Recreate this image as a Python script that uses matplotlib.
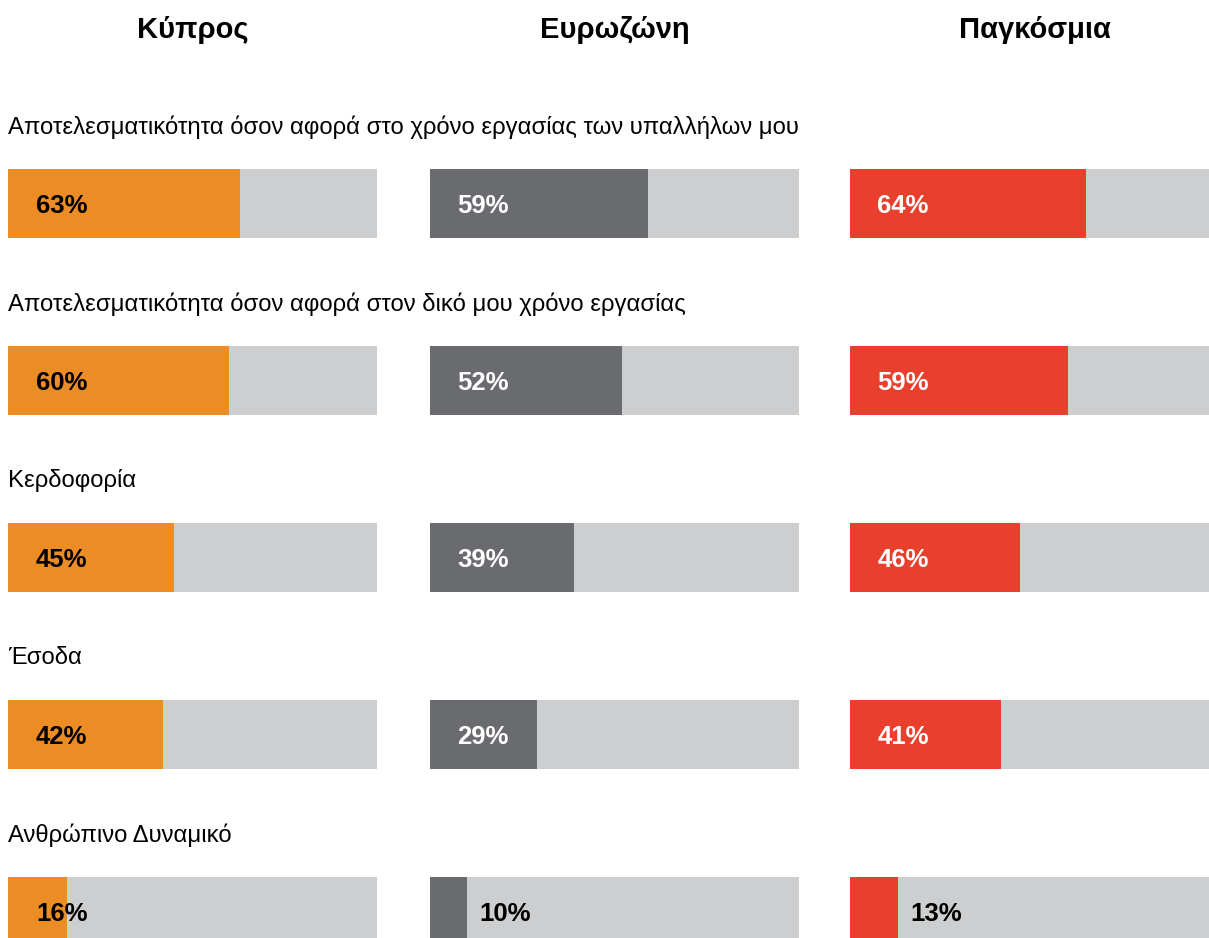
import matplotlib
matplotlib.use("Agg")
from matplotlib import pyplot as plt

plt.rcParams["font.family"] = ["Liberation Sans", "DejaVu Sans"]

regions = ["Κύπρος", "Ευρωζώνη", "Παγκόσμια"]
categories = [
    "Αποτελεσματικότητα όσον αφορά στο χρόνο εργασίας των υπαλλήλων μου",
    "Αποτελεσματικότητα όσον αφορά στον δικό μου χρόνο εργασίας",
    "Κερδοφορία",
    "Έσοδα",
    "Ανθρώπινο Δυναμικό",
]
cyprus = [63, 60, 45, 42, 16]
eurozone = [59, 52, 39, 29, 10]
world = [64, 59, 46, 41, 13]

values = [cyprus, eurozone, world]
colors = ["#EC8C25", "#6A6B6F", "#E8402D"]
track = "#CDCED0"

W, H = 1209, 938
fig = plt.figure(figsize=(W / 100, H / 100), dpi=100)

col_left = [8, 430, 850]
col_width = 369
row_step = 177
first_center = 203.5
bar_h = 69 / row_step
y_top = -first_center / row_step
y_bottom = (H - first_center) / row_step

for c, (region, vals, color) in enumerate(zip(regions, values, colors)):
    ax = fig.add_axes([col_left[c] / W, 0, col_width / W, 1])
    ax.set_xlim(0, 100)
    ax.set_ylim(y_bottom, y_top)
    ax.axis("off")
    rows = range(len(categories))
    ax.barh(rows, [100] * len(vals), height=bar_h, color=track, linewidth=0)
    ax.barh(rows, vals, height=bar_h, color=color, linewidth=0)

    ax.text(50, y_top + 30 / row_step, region, ha="center", va="center",
            fontsize=21, fontweight="bold")

    for i, v in enumerate(vals):
        if c == 0:
            x, tc = 7.6, "black"
        elif v >= 20:
            x, tc = 7.4, "white"
        else:
            x, tc = v + 3.4, "black"
        ax.text(x, i, f"{v}%", ha="left", va="center_baseline",
                fontsize=18.5, fontweight="bold", color=tc)

    if c == 0:
        for i, cat in enumerate(categories):
            ax.text(0.1, i - 79 / row_step, cat, ha="left", va="center_baseline",
                    fontsize=17.2, color="black", clip_on=False)

fig.savefig("out.png", dpi=100)
